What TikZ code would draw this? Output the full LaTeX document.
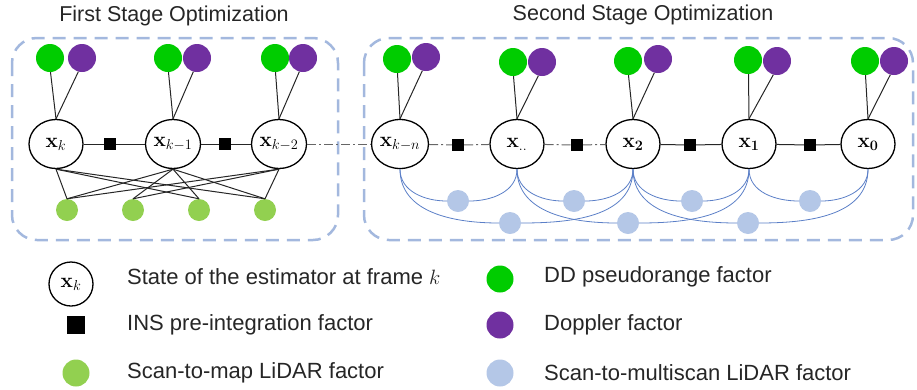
\documentclass[tikz,border=0pt]{standalone}
\usepackage[no-math]{fontspec}
\setmainfont{Liberation Sans}
\usetikzlibrary{shapes.geometric}
\definecolor{ddgreen}{HTML}{00CC00}
\definecolor{dopurple}{HTML}{7030A0}
\definecolor{mapgreen}{HTML}{92D050}
\definecolor{msblue}{HTML}{B4C7E7}
\definecolor{curveblue}{HTML}{5B7FC7}
\definecolor{boxblue}{HTML}{A3B8DE}
\tikzset{
  state/.style={ellipse, draw, line width=1.3pt, minimum width=54pt, minimum height=49pt, inner sep=0pt, font=\fontsize{22}{26}\selectfont},
  ddf/.style={circle, fill=ddgreen, minimum size=28pt, inner sep=0pt},
  dopf/.style={circle, fill=dopurple, minimum size=28pt, inner sep=0pt},
  mapf/.style={circle, fill=mapgreen, minimum size=22pt, inner sep=0pt},
  msf/.style={circle, fill=msblue, minimum size=22pt, inner sep=0pt},
  insf/.style={rectangle, fill=black, minimum size=12pt, inner sep=0pt},
  link/.style={draw=black!85, line width=1pt},
  dashdot/.style={draw=black!60, line width=1pt, dash pattern=on 9pt off 3pt on 2pt off 3pt},
  mscurve/.style={draw=curveblue, line width=0.8pt},
  stagebox/.style={draw=boxblue, line width=2.5pt, dash pattern=on 13pt off 8pt, rounded corners=25pt},
  title/.style={font=\fontsize{21.5}{26}\selectfont, text=black!85},
  legtext/.style={anchor=west, font=\fontsize{22}{26}\selectfont, text=black!85, inner sep=0pt},
}
\begin{document}
\begin{tikzpicture}[x=1pt,y=-1pt]
\useasboundingbox (0,0) rectangle (917,389);

% boxes
\draw[stagebox] (12,38) rectangle (338,240);
\draw[stagebox] (364,38) rectangle (913,240);

% titles
\node[title] (t1) at (174,16) {First Stage Optimization};
\node[title] (t2) at (643,15) {Second Stage Optimization};

% state nodes
\node[state] (xk)  at (56,144)  {$\mathbf{x}_k$};
\node[state] (xk1) at (173,144) {$\mathbf{x}_{k-1}$};
\node[state] (xk2) at (279,144) {$\mathbf{x}_{k-2}$};
\node[state] (xkn) at (400,144) {$\mathbf{x}_{k-n}$};
\node[state] (xd)  at (517,144) {$\mathbf{x}_{..}$};
\node[state] (x2)  at (633,144) {$\mathbf{x}_{\mathbf{2}}$};
\node[state] (x1)  at (749,144) {$\mathbf{x}_{\mathbf{1}}$};
\node[state] (x0)  at (868,144) {$\mathbf{x}_{\mathbf{0}}$};

% INS squares
\node[insf] (s1) at (110,144) {};
\node[insf] (s2) at (225,144) {};
\node[insf] (s3) at (458,145) {};
\node[insf] (s4) at (577,145) {};
\node[insf] (s5) at (690,145) {};
\node[insf] (s6) at (810,145) {};

\draw[link] (xk) -- (s1) -- (xk1) -- (s2) -- (xk2);
\draw[dashdot] (xk2) -- (xkn);
\draw[dashdot] (xkn) -- (s3) -- (xd) -- (s4) -- (x2);
\draw[link] (x2) -- (s5) -- (x1) -- (s6) -- (x0);

% GNSS factors
\foreach \n/\gx/\gy/\px/\py in {xk/50/58/82/58, xk1/168/58/197/58, xk2/275/58/303/58,
  xkn/397/59/426/57, xd/513/62/542/62, x2/628/61/658/59, x1/748/60/777/61, x0/865/61/894/61}{
  \node[ddf] (g\n) at (\gx,\gy) {};
  \node[dopf] (p\n) at (\px,\py) {};
  \draw[link] (g\n.-88) -- (\n.north);
  \draw[link] (p\n.-105) -- (\n.north);
}

% scan-to-map factors
\node[mapf] (l1) at (67,210) {};
\node[mapf] (l2) at (133,210) {};
\node[mapf] (l3) at (199,210) {};
\node[mapf] (l4) at (265,210) {};
\foreach \s/\l in {xk/l1, xk/l3, xk/l4, xk1/l1, xk1/l2, xk1/l3, xk1/l4, xk2/l1, xk2/l2, xk2/l4}
  \draw[link] (\s.south) -- (\l.north);

% scan-to-multiscan factors
\node[msf] (m1) at (458,201) {};
\node[msf] (m2) at (574,201) {};
\node[msf] (m3) at (692,201) {};
\node[msf] (m4) at (810,201) {};
\node[msf] (n1) at (510,223) {};
\node[msf] (n2) at (628,223) {};
\node[msf] (n3) at (748,223) {};
\foreach \a/\m/\b in {xkn/m1/xd, xd/m2/x2, x2/m3/x1, x1/m4/x0, xkn/n1/x2, xd/n2/x1, x2/n3/x0}{
  \draw[mscurve] (\a.south) to[out=-90,in=180] (\m.west);
  \draw[mscurve] (\m.east) to[out=0,in=-90] (\b.south);
}

% legend
\node[state, minimum width=44pt, minimum height=44pt] (lgx) at (71,284) {$\mathbf{x}_k$};
\node[legtext] (lgxt) at (127,277) {State of the estimator at frame $k$};
\node[insf, minimum size=18pt] (lgs) at (76,325) {};
\node[legtext] (lgst) at (127,325) {INS pre-integration factor};
\node[mapf, minimum size=27pt] (lgm) at (76,373) {};
\node[legtext] (lgmt) at (127,373) {Scan-to-map LiDAR factor};
\node[ddf, minimum size=27pt] (lgg) at (500,279) {};
\node[legtext] (lggt) at (544,277) {DD pseudorange factor};
\node[dopf, minimum size=27pt] (lgp) at (500,325) {};
\node[legtext] (lgpt) at (544,325) {Doppler factor};
\node[msf, minimum size=27pt] (lgb) at (500,373) {};
\node[legtext] (lgbt) at (544,373) {Scan-to-multiscan LiDAR factor};
\end{tikzpicture}
\end{document}
